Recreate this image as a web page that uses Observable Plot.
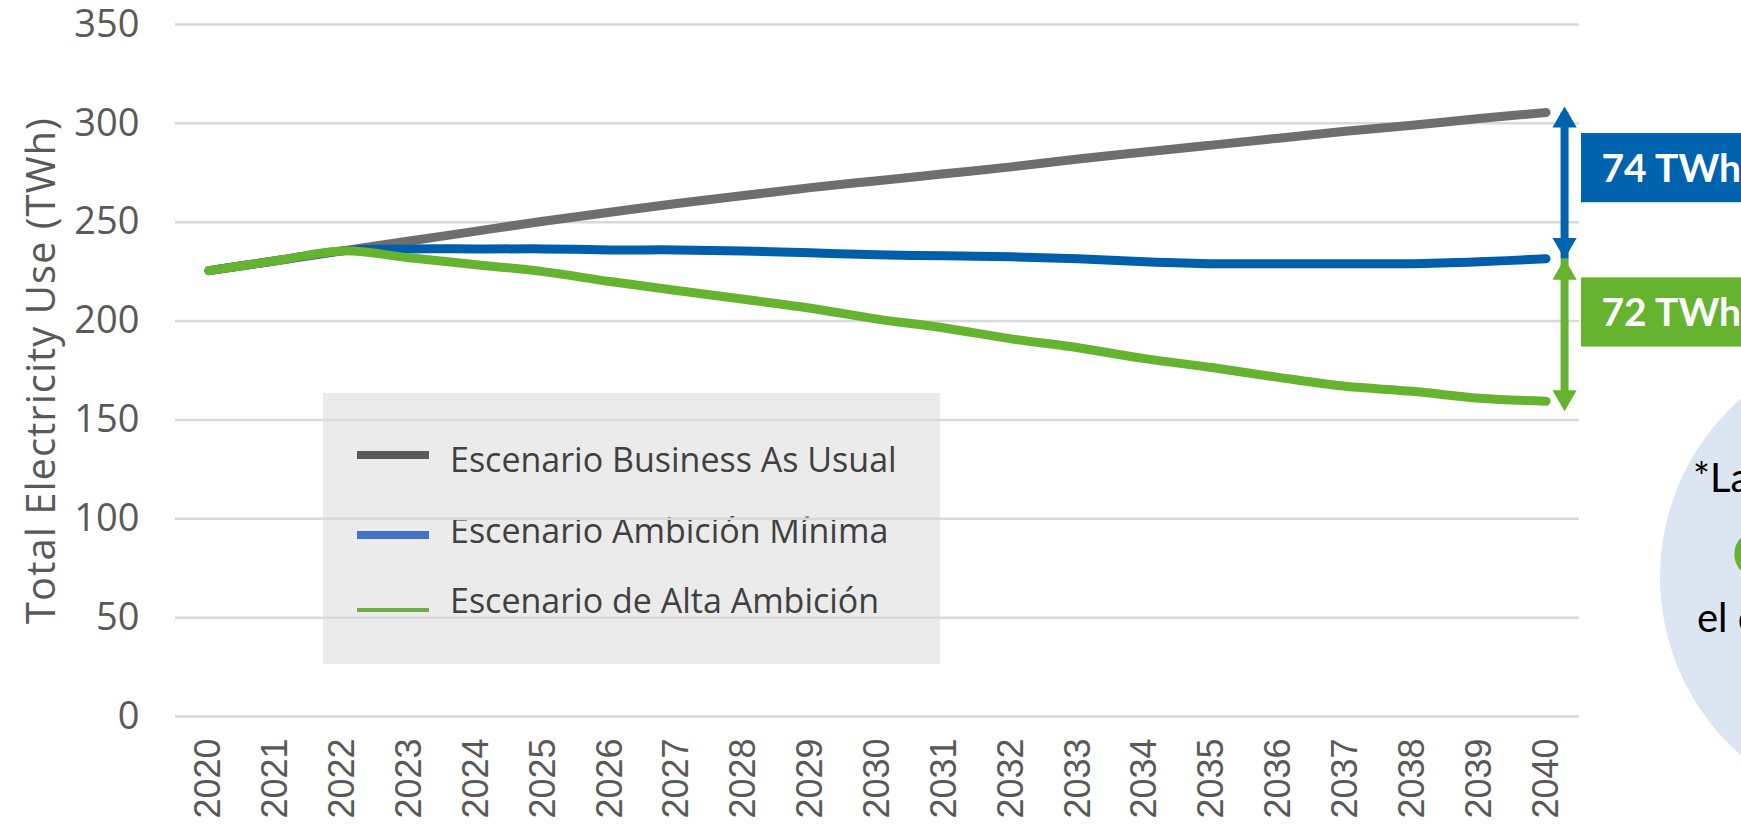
<!DOCTYPE html>
<html>
<head>
<meta charset="utf-8">
<script src="https://cdn.jsdelivr.net/npm/d3@7"></script>
<script src="https://cdn.jsdelivr.net/npm/@observablehq/plot@0.6"></script>
<style>
  html, body { margin: 0; padding: 0; background: #ffffff; overflow: hidden; }
  #wrap { position: relative; width: 1741px; height: 832px; overflow: hidden; }
  #legend { position: absolute; left: 323px; top: 393px; width: 617px; height: 271px; background: #ebebeb; }
  .lg-line { position: absolute; left: 34px; width: 72px; }
  .lg-text { position: absolute; left: 127px; font-family: "Open Sans", sans-serif; font-size: 34px; line-height: 34px; color: #404040; white-space: nowrap; }
  #bubble { position: absolute; left: 1660px; top: 340px; width: 474px; height: 474px; border-radius: 50%; background: #dce6f2; }
  .bt { position: absolute; font-family: Lato, sans-serif; white-space: nowrap; line-height: 1; }
  #chart { position: absolute; left: 0; top: 0; }
</style>
</head>
<body>
<div id="wrap">
  <div id="legend"></div>
  <div id="bubble"></div>
  <div class="bt" style="left:1693px; top:457px; font-size:40px; color:#000;">*La</div>
  <div class="bt" style="left:1732px; top:521px; font-size:62px; font-weight:bold; color:#65b32e;">C</div>
  <div class="bt" style="left:1697px; top:597px; font-size:40px; color:#000;">el c</div>
  <div id="chart"></div>
</div>
<script>
// ---- data ----
const years = d3.range(2020, 2041);
const seriesNames = ["Escenario Business As Usual", "Escenario Ambición Mínima", "Escenario de Alta Ambición"];
const bau  = [225.5, 230.5, 235.5, 240.5, 245.5, 250.5, 255, 259.5, 263.5, 267.5, 271, 274.5, 278, 282, 285.5, 289, 292.5, 296, 299, 302.5, 305.5];
const minA = [225.5, 230.5, 235.5, 236.5, 236.5, 236.5, 236, 236, 235.5, 234.5, 233.5, 233, 232.5, 231.5, 230, 229, 229, 229, 229, 230, 231.5];
const alta = [225.5, 230.5, 235.5, 232, 228.5, 225, 220, 215.5, 211, 206.5, 201, 196.5, 191, 186.5, 181, 176.5, 171.5, 167, 164.5, 161, 159.5];
const lineColors = ["#6e6e6e", "#005eab", "#65b32e"];
const legendColors = ["#595959", "#4472c4", "#70ad47"];
const yTicks = [0, 50, 100, 150, 200, 250, 300, 350];
const gapLabels = ["74 TWh", "72 TWh"];
const gapColors = ["#0063ae", "#65b32e"];
const yTitle = "Total Electricity Use (TWh)";

const seriesValues = [bau, minA, alta];
const rows = seriesNames.flatMap((s, i) => years.map((yr, j) => ({series: s, year: yr, value: seriesValues[i][j]})));
const last = years.length - 1;
const gaps = [
  {label: gapLabels[0], top: bau[last], bottom: minA[last], color: gapColors[0]},
  {label: gapLabels[1], top: minA[last], bottom: alta[last], color: gapColors[1]}
];
const endYear = years[last];

// ---- legend (drawn behind the chart so gridlines cross it) ----
const legend = document.getElementById("legend");
const lgLineTops = [62, 142, 217];
const lgLineH = [8, 8, 4];
const lgTextTops = [49, 120, 190];
seriesNames.forEach((name, i) => {
  const l = document.createElement("div");
  l.className = "lg-line";
  l.style.top = (lgLineTops[i] - lgLineH[i] / 2) + "px";
  l.style.height = lgLineH[i] + "px";
  l.style.background = legendColors[i];
  legend.appendChild(l);
  const t = document.createElement("div");
  t.className = "lg-text";
  t.style.top = lgTextTops[i] + "px";
  t.textContent = name;
  legend.appendChild(t);
});

// ---- chart ----
const ext = 6;
const marks = [
  Plot.ruleY(yTicks, {stroke: "#d9d9d9", strokeWidth: 2.5}),
  Plot.axisY({ticks: yTicks, tickSize: 0, tickPadding: 36, fontSize: 38, fill: "#595959", label: null, fontFamily: "Open Sans"}),
  Plot.axisX({ticks: years, tickSize: 0, tickPadding: 22, tickRotate: -90, fontSize: 36, fill: "#595959", label: null, fontFamily: "Liberation Sans", tickFormat: d => String(d)}),
  Plot.text([yTitle], {frameAnchor: "left", textAnchor: "middle", rotate: -90, dx: -133, fontSize: 40, fill: "#595959", fontFamily: "Open Sans", text: d => d}),
  Plot.line(rows, {x: "year", y: "value", z: "series", stroke: "series", strokeWidth: 9, curve: "catmull-rom", strokeLinecap: "round", strokeLinejoin: "round"})
];
gaps.forEach((g, i) => {
  const mid = (g.top + g.bottom) / 2;
  marks.push(
    Plot.link([g], {x1: () => endYear, x2: () => endYear, y1: "top", y2: "bottom", stroke: g.color, strokeWidth: 8, dx: 18.5}),
    Plot.dot([g], {x: () => endYear, y: "top", symbol: "triangle", r: 9, fill: g.color, stroke: null, dx: 18.5, dy: 13.9 - (i === 0 ? ext : 0)}),
    Plot.dot([g], {x: () => endYear, y: "bottom", symbol: "triangle", r: 9, rotate: 180, fill: g.color, stroke: null, dx: 18.5, dy: -13.9 + (i === 1 ? 10 : 0)}),
    Plot.rect([g], {x1: () => endYear + 0.5, x2: () => endYear + 4, y1: () => mid - 17.5, y2: () => mid + 17.5, dx: 2, dy: -17.5, fill: g.color}),
    Plot.text([g], {x: () => endYear + 0.5, y: () => mid, text: "label", dx: 22, dy: -16, textAnchor: "start", fill: "white", fontWeight: "bold", fontSize: 39, fontFamily: "Lato"})
  );
});

const chart = Plot.plot({
  width: 1741, height: 832,
  marginLeft: 175, marginRight: 162, marginTop: 24, marginBottom: 116,
  style: {background: "transparent", overflow: "visible", fontFamily: "Open Sans"},
  x: {domain: [2019.5, 2040.5], axis: null},
  y: {domain: [0, 350], axis: null},
  color: {domain: seriesNames, range: lineColors},
  marks
});
d3.select(chart).selectAll("text").filter(function () { return this.textContent === yTitle; }).attr("letter-spacing", "1px");
document.getElementById("chart").appendChild(chart);
</script>
</body>
</html>
